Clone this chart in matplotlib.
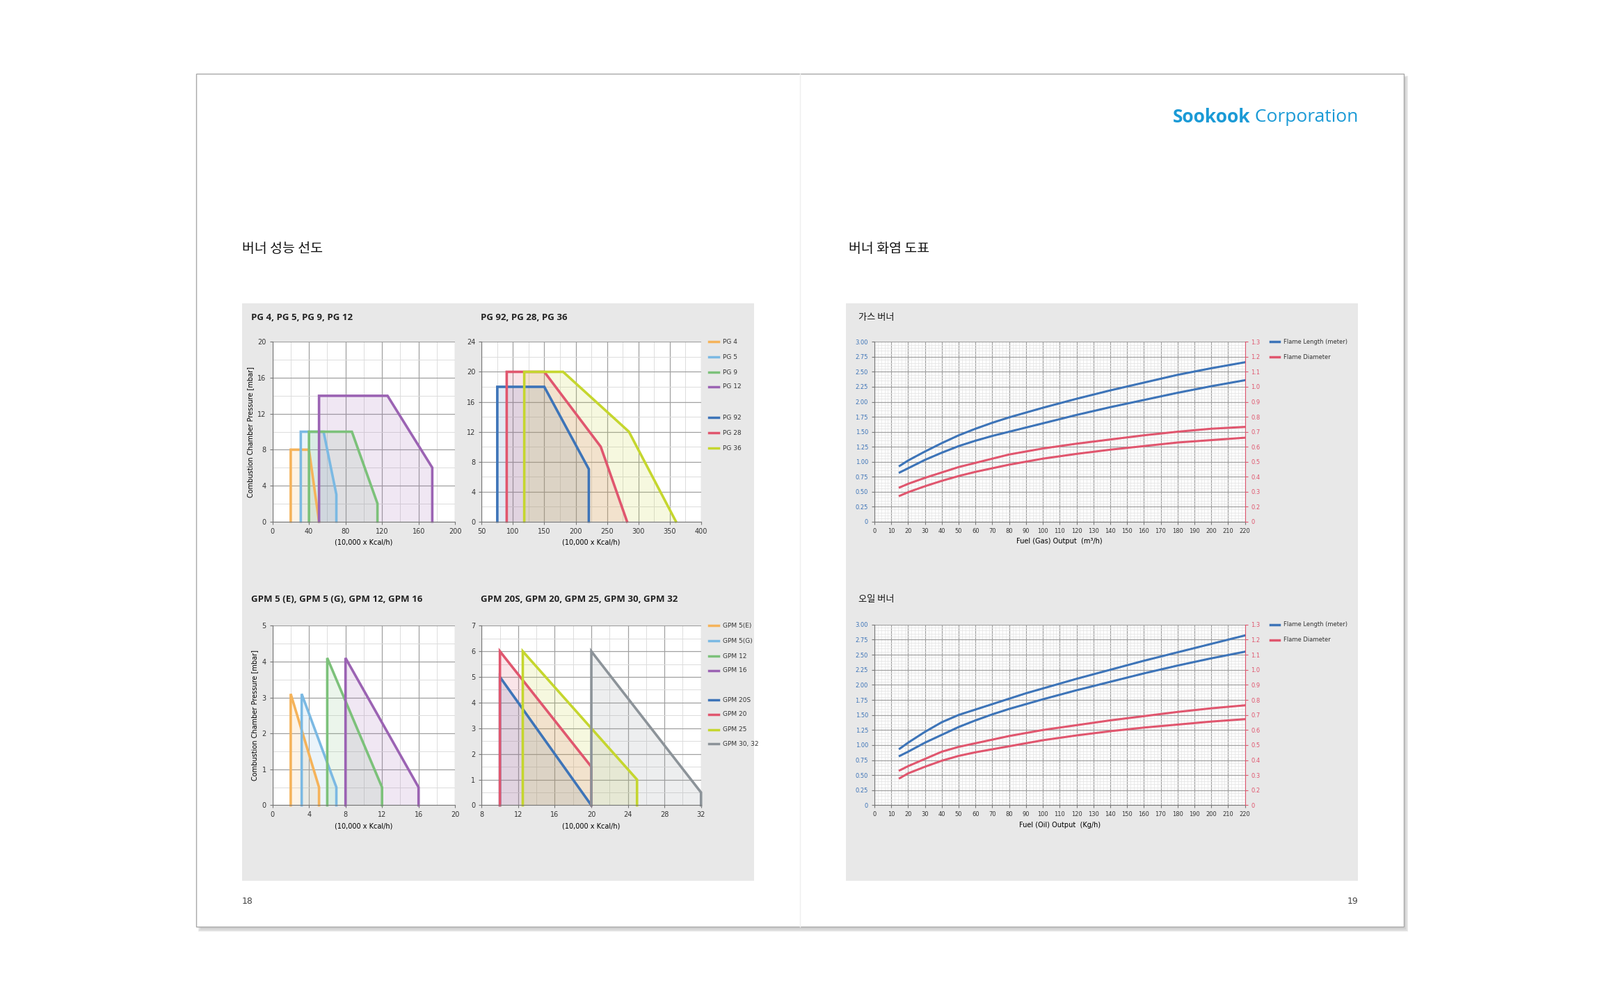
import matplotlib
matplotlib.use("Agg")
import matplotlib.pyplot as plt
from matplotlib.patches import Rectangle
from matplotlib.ticker import MultipleLocator
from matplotlib import font_manager
import numpy as np

cjk = [f.name for f in font_manager.fontManager.ttflist if "CJK" in f.name]
kr = [n for n in cjk if "KR" in n] or cjk
plt.rcParams["font.family"] = ["DejaVu Sans"] + (kr[:1] if kr else [])
KFONT = kr[0] if kr else "DejaVu Sans"

# ---------------- data ----------------
pg_small_names = ["PG 4", "PG 5", "PG 9", "PG 12"]
pg_small_x = [[20, 20, 40, 51], [31, 31, 56, 70, 70], [40, 40, 87, 115, 115], [51, 51, 126, 175, 175]]
pg_small_y = [[0, 8, 8, 0], [0, 10, 10, 3, 0], [0, 10, 10, 2, 0], [0, 14, 14, 6, 0]]

pg_big_names = ["PG 92", "PG 28", "PG 36"]
pg_big_x = [[75, 75, 150, 221, 221], [90, 90, 150, 240, 282], [118, 118, 180, 285, 360]]
pg_big_y = [[0, 18, 18, 7, 0], [0, 20, 20, 10, 0], [0, 20, 20, 12, 0]]

gpm_small_names = ["GPM 5(E)", "GPM 5(G)", "GPM 12", "GPM 16"]
gpm_small_x = [[2, 2, 5.1, 5.1], [3.2, 3.2, 7, 7], [6, 6, 12, 12], [8, 8, 16, 16]]
gpm_small_y = [[0, 3.1, 0.5, 0], [0, 3.1, 0.5, 0], [0, 4.1, 0.5, 0], [0, 4.1, 0.5, 0]]

gpm_big_names = ["GPM 20S", "GPM 20", "GPM 25", "GPM 30, 32"]
gpm_big_x = [[10, 10, 20], [10, 10, 20, 20], [12.5, 12.5, 25, 25], [20, 20, 32, 32]]
gpm_big_y = [[0, 5, 0], [0, 6, 1.5, 0], [0, 6, 1, 0], [0, 6, 0.5, 0]]

flame_x = [15, 20, 30, 40, 50, 60, 70, 80, 90, 100, 120, 140, 160, 180, 200, 220]
gas_len_hi = [0.93, 1.02, 1.17, 1.31, 1.44, 1.55, 1.65, 1.74, 1.82, 1.90, 2.05, 2.19, 2.32, 2.45, 2.56, 2.66]
gas_len_lo = [0.82, 0.89, 1.03, 1.15, 1.26, 1.35, 1.43, 1.50, 1.57, 1.64, 1.78, 1.91, 2.03, 2.15, 2.26, 2.36]
gas_dia_hi = [0.57, 0.63, 0.73, 0.82, 0.91, 0.98, 1.05, 1.12, 1.17, 1.22, 1.30, 1.37, 1.44, 1.50, 1.55, 1.58]
gas_dia_lo = [0.43, 0.49, 0.59, 0.68, 0.76, 0.83, 0.89, 0.95, 1.00, 1.05, 1.13, 1.20, 1.26, 1.32, 1.36, 1.40]
oil_len_hi = [0.94, 1.04, 1.22, 1.38, 1.50, 1.59, 1.68, 1.77, 1.86, 1.94, 2.10, 2.25, 2.40, 2.54, 2.68, 2.82]
oil_len_lo = [0.82, 0.89, 1.04, 1.17, 1.30, 1.41, 1.51, 1.60, 1.68, 1.76, 1.91, 2.05, 2.19, 2.32, 2.44, 2.55]
oil_dia_hi = [0.58, 0.65, 0.77, 0.89, 0.97, 1.03, 1.09, 1.15, 1.20, 1.25, 1.33, 1.41, 1.48, 1.55, 1.61, 1.66]
oil_dia_lo = [0.45, 0.53, 0.64, 0.74, 0.82, 0.88, 0.93, 0.98, 1.03, 1.08, 1.16, 1.23, 1.29, 1.34, 1.39, 1.43]
right_labels = ["0", "0.2", "0.3", "0.4", "0.5", "0.6", "0.7", "0.8", "0.9", "1.0", "1.1", "1.2", "1.3"]

# ---------------- layout ----------------
W, H = 1568.0, 970.0
fig = plt.figure(figsize=(23, 14.23), dpi=100)
fig.patch.set_facecolor("white")

def fx(x): return x / W
def fy(y): return 1 - y / H
def rect(x0, y0, x1, y1, **kw):
    fig.patches.append(Rectangle((fx(x0), fy(y1)), fx(x1) - fx(x0), fy(y0) - fy(y1),
                                 transform=fig.transFigure, **kw))
def axes(x0, y0, x1, y1):
    a = fig.add_axes([fx(x0), fy(y1), fx(x1) - fx(x0), fy(y0) - fy(y1)])
    a.set_zorder(10)
    return a

for i, c in enumerate(["#ececec", "#dedede", "#d2d2d2"]):
    rect(194 + i, 74 + i, 1380 - i, 913 - i, facecolor=c, edgecolor="none", zorder=0)
rect(192, 72, 1376, 908, facecolor="white", edgecolor="#a8a8a8", linewidth=1, zorder=1)
fig.lines.append(plt.Line2D([fx(784), fx(784)], [fy(72), fy(908)], transform=fig.transFigure,
                            color="#eeeeee", linewidth=1, zorder=2))
rect(237, 297, 739, 863, facecolor="#e8e8e8", edgecolor="none", zorder=2)
rect(829, 297, 1331, 863, facecolor="#e8e8e8", edgecolor="none", zorder=2)

fig.text(fx(237), fy(244), "버너 성능 선도", fontsize=14, va="center", ha="left",
         color="#111", family=KFONT)
fig.text(fx(832), fy(244), "버너 화염 도표", fontsize=14, va="center", ha="left",
         color="#111", family=KFONT)
s1 = fig.text(fx(1331), fy(115), "Sookook", fontsize=19, fontweight="bold", color="#1a9ad6",
              ha="right", va="center", family="Open Sans")
t = fig.text(fx(1331), fy(115), " Corporation", fontsize=19, color="#1a9ad6", ha="right", va="center",
             family="Open Sans")
fig.canvas.draw()
bb = t.get_window_extent()
s1.set_position((bb.x0 / fig.bbox.width, fy(115)))
fig.text(fx(237), fy(883), "18", fontsize=9, color="#444", va="center")
fig.text(fx(1331), fy(883), "19", fontsize=9, color="#444", va="center", ha="right")

for (x, y, s) in [(246, 311, "PG 4, PG 5, PG 9, PG 12"), (471, 311, "PG 92, PG 28, PG 36"),
                  (246, 587, "GPM 5 (E), GPM 5 (G), GPM 12, GPM 16"),
                  (471, 587, "GPM 20S, GPM 20, GPM 25, GPM 30, GPM 32")]:
    fig.text(fx(x), fy(y), s, fontsize=9.5, fontweight="bold", va="center", color="#222", family="Open Sans")
for (x, y, s) in [(841, 311, "가스 버너"), (841, 587, "오일 버너")]:
    fig.text(fx(x), fy(y), s, fontsize=9.5, va="center", color="#111", family=KFONT)

def style(ax, xmaj, xmin, ymaj, ymin, tickcol="#333", fs=7):
    ax.set_facecolor("white")
    ax.xaxis.set_major_locator(MultipleLocator(xmaj))
    ax.xaxis.set_minor_locator(MultipleLocator(xmin))
    ax.yaxis.set_major_locator(MultipleLocator(ymaj))
    ax.yaxis.set_minor_locator(MultipleLocator(ymin))
    ax.grid(which="major", color="#a0a0a0", linewidth=0.9)
    ax.grid(which="minor", color="#dcdcdc", linewidth=0.7)
    ax.set_axisbelow(True)
    for s in ["top", "right"]:
        ax.spines[s].set_visible(False)
    for s in ["left", "bottom"]:
        ax.spines[s].set_color("#777")
    ax.tick_params(labelsize=fs, length=3, colors="#777", labelcolor=tickcol, which="major")
    ax.tick_params(which="minor", length=0)

cols4 = ["#f5b35a", "#7bb9e3", "#7cc17a", "#9b63b3"]
cols_big = ["#3d74b8", "#e0566e", "#c5d62e", "#8c9399"]

def region(ax, xs, ys, names, cols, lw=2.6):
    for x, y, n, c in zip(xs, ys, names, cols):
        ax.fill(x, y, color=c, alpha=0.15, linewidth=0)
        ax.plot(x, y, color=c, linewidth=lw, solid_joinstyle="miter", label=n, clip_on=False)

def legend_col(x, ys, names, cols, fs=6.5):
    for y, n, c in zip(ys, names, cols):
        fig.lines.append(plt.Line2D([fx(x), fx(x + 9)], [fy(y), fy(y)], transform=fig.transFigure,
                                    color=c, linewidth=2.5, zorder=5))
        fig.text(fx(x + 13), fy(y), n, fontsize=fs, va="center", color="#333")

ylab = "Combustion Chamber Pressure [mbar]"
ax = axes(267, 335, 446, 511)
region(ax, pg_small_x, pg_small_y, pg_small_names, cols4)
ax.set_xlim(0, 200); ax.set_ylim(0, 20)
style(ax, 40, 20, 4, 2)
ax.set_xlabel("(10,000 x Kcal/h)", fontsize=7)
ax.set_ylabel(ylab, fontsize=7)

ax = axes(472, 335, 687, 511)
region(ax, pg_big_x, pg_big_y, pg_big_names, cols_big[:3])
ax.set_xlim(50, 400); ax.set_ylim(0, 24)
style(ax, 50, 25, 4, 2)
ax.set_xlabel("(10,000 x Kcal/h)", fontsize=7)
legend_col(695, [335, 350, 365, 379], pg_small_names, cols4)
legend_col(695, [409, 424, 439], pg_big_names, cols_big[:3])

ax = axes(267, 613, 446, 789)
region(ax, gpm_small_x, gpm_small_y, gpm_small_names, cols4)
ax.set_xlim(0, 20); ax.set_ylim(0, 5)
style(ax, 4, 2, 1, 0.5)
ax.set_xlabel("(10,000 x Kcal/h)", fontsize=7)
ax.set_ylabel(ylab, fontsize=7)

ax = axes(472, 613, 687, 789)
region(ax, gpm_big_x, gpm_big_y, gpm_big_names, cols_big)
ax.set_xlim(8, 32); ax.set_ylim(0, 7)
style(ax, 4, 2, 1, 0.5)
ax.set_xlabel("(10,000 x Kcal/h)", fontsize=7)
legend_col(695, [613, 628, 643, 657], gpm_small_names, cols4)
legend_col(695, [686, 700, 715, 729], gpm_big_names, cols_big)

def flame(y0, y1, lh, ll, dh, dl, xlabel):
    ax = axes(857, y0, 1220, y1)
    ax.plot(flame_x, lh, color="#3d74b8", linewidth=2.2)
    ax.plot(flame_x, ll, color="#3d74b8", linewidth=2.2)
    ax.plot(flame_x, dh, color="#e0566e", linewidth=2.2)
    ax.plot(flame_x, dl, color="#e0566e", linewidth=2.2)
    ax.set_xlim(0, 220); ax.set_ylim(0, 3)
    style(ax, 10, 2, 0.25, 0.05, tickcol="#3d74b8", fs=6)
    ax.grid(which="minor", color="#e6e6e6", linewidth=0.6)
    ax.tick_params(axis="x", labelcolor="#333")
    ax.set_yticks(np.arange(0, 3.01, 0.25))
    ax.set_yticklabels(["0"] + [f"{v:.2f}" for v in np.arange(0.25, 3.01, 0.25)])
    ax.set_xlabel(xlabel, fontsize=7)
    ax2 = ax.twinx()
    ax2.set_zorder(11)
    ax2.set_ylim(0, 3)
    ax2.set_yticks(np.arange(0, 3.01, 0.25))
    ax2.set_yticklabels(right_labels)
    for s in ["top", "left", "bottom"]:
        ax2.spines[s].set_visible(False)
    ax2.spines["right"].set_color("#e0566e")
    ax2.tick_params(labelsize=6, colors="#e0566e", length=3)
    ax.spines["right"].set_visible(False)
    legend_col(1245, [y0, y0 + 15], ["Flame Length (meter)", "Flame Diameter"], ["#3d74b8", "#e0566e"], fs=6)

flame(335, 511, gas_len_hi, gas_len_lo, gas_dia_hi, gas_dia_lo, "Fuel (Gas) Output  (m³/h)")
flame(612, 789, oil_len_hi, oil_len_lo, oil_dia_hi, oil_dia_lo, "Fuel (Oil) Output  (Kg/h)")

fig.savefig("out.png", dpi=100)
